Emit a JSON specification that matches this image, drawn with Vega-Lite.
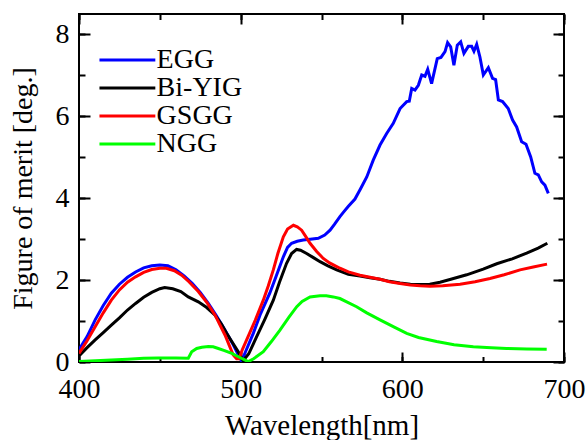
{
  "$schema": "https://vega.github.io/schema/vega-lite/v6.json",
  "width": 485,
  "height": 348,
  "autosize": {"type": "none"},
  "padding": {"left": 79, "top": 14, "right": 23, "bottom": 78},
  "background": "white",
  "config": {
    "view": {"stroke": "black", "strokeWidth": 2},
    "font": "Liberation Serif",
    "axis": {"grid": false, "domain": false, "labelFlush": false, "labelOverlap": false, "labelFont": "Liberation Serif", "titleFont": "Liberation Serif", "labelColor": "black", "titleColor": "black", "tickColor": "black", "tickWidth": 2, "titleFontWeight": "normal"}
  },
  "data": {"values": [
    {"m":"EGG","x":400,"y":0.30},{"m":"EGG","x":405,"y":0.62},{"m":"EGG","x":410,"y":1.03},{"m":"EGG","x":415,"y":1.38},{"m":"EGG","x":420,"y":1.68},{"m":"EGG","x":425,"y":1.90},{"m":"EGG","x":430,"y":2.07},{"m":"EGG","x":435,"y":2.20},{"m":"EGG","x":440,"y":2.30},{"m":"EGG","x":445,"y":2.35},{"m":"EGG","x":450,"y":2.37},{"m":"EGG","x":455,"y":2.35},{"m":"EGG","x":460,"y":2.25},{"m":"EGG","x":465,"y":2.10},{"m":"EGG","x":470,"y":1.92},{"m":"EGG","x":475,"y":1.70},{"m":"EGG","x":480,"y":1.43},{"m":"EGG","x":485,"y":1.13},{"m":"EGG","x":490,"y":0.80},{"m":"EGG","x":495,"y":0.45},{"m":"EGG","x":498,"y":0.22},{"m":"EGG","x":500.6,"y":0.02},{"m":"EGG","x":503,"y":0.25},{"m":"EGG","x":507.8,"y":0.70},{"m":"EGG","x":512,"y":1.15},{"m":"EGG","x":518,"y":1.68},{"m":"EGG","x":522,"y":2.10},{"m":"EGG","x":526.4,"y":2.57},{"m":"EGG","x":529,"y":2.80},{"m":"EGG","x":531.5,"y":2.90},{"m":"EGG","x":535,"y":2.95},{"m":"EGG","x":538.7,"y":2.98},{"m":"EGG","x":543,"y":3.00},{"m":"EGG","x":548,"y":3.02},{"m":"EGG","x":552,"y":3.10},{"m":"EGG","x":555.3,"y":3.22},{"m":"EGG","x":558,"y":3.36},{"m":"EGG","x":561.4,"y":3.55},{"m":"EGG","x":564,"y":3.68},{"m":"EGG","x":566.5,"y":3.80},{"m":"EGG","x":570.7,"y":3.98},{"m":"EGG","x":574,"y":4.22},{"m":"EGG","x":578,"y":4.52},{"m":"EGG","x":582,"y":4.93},{"m":"EGG","x":586.2,"y":5.30},{"m":"EGG","x":590.3,"y":5.58},{"m":"EGG","x":594.4,"y":5.83},{"m":"EGG","x":598.6,"y":6.19},{"m":"EGG","x":602.7,"y":6.36},{"m":"EGG","x":604.3,"y":6.37},{"m":"EGG","x":605.8,"y":6.68},{"m":"EGG","x":607.8,"y":6.64},{"m":"EGG","x":609.9,"y":6.76},{"m":"EGG","x":612,"y":7.01},{"m":"EGG","x":614,"y":6.98},{"m":"EGG","x":615.7,"y":7.15},{"m":"EGG","x":618.1,"y":6.80},{"m":"EGG","x":621.6,"y":7.41},{"m":"EGG","x":623.9,"y":7.44},{"m":"EGG","x":626.4,"y":7.58},{"m":"EGG","x":628,"y":7.80},{"m":"EGG","x":629.9,"y":7.70},{"m":"EGG","x":631.9,"y":7.25},{"m":"EGG","x":634,"y":7.74},{"m":"EGG","x":636.1,"y":7.82},{"m":"EGG","x":638.1,"y":7.54},{"m":"EGG","x":640.8,"y":7.71},{"m":"EGG","x":642.9,"y":7.71},{"m":"EGG","x":644.3,"y":7.59},{"m":"EGG","x":646,"y":7.76},{"m":"EGG","x":648,"y":7.45},{"m":"EGG","x":650.1,"y":7.01},{"m":"EGG","x":653.2,"y":7.19},{"m":"EGG","x":655.8,"y":6.93},{"m":"EGG","x":657.7,"y":6.90},{"m":"EGG","x":659.4,"y":6.40},{"m":"EGG","x":662,"y":6.36},{"m":"EGG","x":665.5,"y":6.19},{"m":"EGG","x":668.2,"y":5.91},{"m":"EGG","x":670.7,"y":5.74},{"m":"EGG","x":673.8,"y":5.38},{"m":"EGG","x":676.5,"y":5.32},{"m":"EGG","x":679.4,"y":5.01},{"m":"EGG","x":682,"y":4.61},{"m":"EGG","x":684.1,"y":4.57},{"m":"EGG","x":686.2,"y":4.40},{"m":"EGG","x":688.2,"y":4.32},{"m":"EGG","x":690.3,"y":4.12},
    {"m":"Bi-YIG","x":400,"y":0.15},{"m":"Bi-YIG","x":405,"y":0.35},{"m":"Bi-YIG","x":410,"y":0.54},{"m":"Bi-YIG","x":415,"y":0.72},{"m":"Bi-YIG","x":420,"y":0.90},{"m":"Bi-YIG","x":425,"y":1.08},{"m":"Bi-YIG","x":430,"y":1.27},{"m":"Bi-YIG","x":435,"y":1.43},{"m":"Bi-YIG","x":440,"y":1.58},{"m":"Bi-YIG","x":445,"y":1.70},{"m":"Bi-YIG","x":450,"y":1.79},{"m":"Bi-YIG","x":453,"y":1.82},{"m":"Bi-YIG","x":458,"y":1.79},{"m":"Bi-YIG","x":463,"y":1.72},{"m":"Bi-YIG","x":467.6,"y":1.59},{"m":"Bi-YIG","x":473.8,"y":1.47},{"m":"Bi-YIG","x":479,"y":1.33},{"m":"Bi-YIG","x":484,"y":1.15},{"m":"Bi-YIG","x":488,"y":0.93},{"m":"Bi-YIG","x":491.3,"y":0.70},{"m":"Bi-YIG","x":495,"y":0.47},{"m":"Bi-YIG","x":498.5,"y":0.25},{"m":"Bi-YIG","x":501.5,"y":0.03},{"m":"Bi-YIG","x":505,"y":0.20},{"m":"Bi-YIG","x":509.9,"y":0.62},{"m":"Bi-YIG","x":515,"y":1.05},{"m":"Bi-YIG","x":520.2,"y":1.51},{"m":"Bi-YIG","x":524,"y":1.95},{"m":"Bi-YIG","x":528.4,"y":2.41},{"m":"Bi-YIG","x":531.5,"y":2.65},{"m":"Bi-YIG","x":534.6,"y":2.75},{"m":"Bi-YIG","x":537,"y":2.73},{"m":"Bi-YIG","x":540.8,"y":2.65},{"m":"Bi-YIG","x":545,"y":2.55},{"m":"Bi-YIG","x":549.1,"y":2.45},{"m":"Bi-YIG","x":554,"y":2.35},{"m":"Bi-YIG","x":559.4,"y":2.25},{"m":"Bi-YIG","x":566.6,"y":2.14},{"m":"Bi-YIG","x":573.8,"y":2.10},{"m":"Bi-YIG","x":580,"y":2.06},{"m":"Bi-YIG","x":586.2,"y":2.02},{"m":"Bi-YIG","x":592,"y":1.97},{"m":"Bi-YIG","x":598.6,"y":1.93},{"m":"Bi-YIG","x":605,"y":1.90},{"m":"Bi-YIG","x":611,"y":1.89},{"m":"Bi-YIG","x":617,"y":1.90},{"m":"Bi-YIG","x":623.3,"y":1.95},{"m":"Bi-YIG","x":630,"y":2.02},{"m":"Bi-YIG","x":639.8,"y":2.13},{"m":"Bi-YIG","x":650,"y":2.27},{"m":"Bi-YIG","x":658.4,"y":2.40},{"m":"Bi-YIG","x":668,"y":2.52},{"m":"Bi-YIG","x":676.9,"y":2.66},{"m":"Bi-YIG","x":684,"y":2.78},{"m":"Bi-YIG","x":689.7,"y":2.90},
    {"m":"GSGG","x":400,"y":0.21},{"m":"GSGG","x":405,"y":0.52},{"m":"GSGG","x":410,"y":0.86},{"m":"GSGG","x":415,"y":1.20},{"m":"GSGG","x":420,"y":1.51},{"m":"GSGG","x":425,"y":1.76},{"m":"GSGG","x":430,"y":1.95},{"m":"GSGG","x":435,"y":2.08},{"m":"GSGG","x":440,"y":2.19},{"m":"GSGG","x":445,"y":2.26},{"m":"GSGG","x":450,"y":2.29},{"m":"GSGG","x":454,"y":2.29},{"m":"GSGG","x":459,"y":2.23},{"m":"GSGG","x":463.5,"y":2.12},{"m":"GSGG","x":468,"y":1.96},{"m":"GSGG","x":473.8,"y":1.72},{"m":"GSGG","x":479,"y":1.46},{"m":"GSGG","x":484.1,"y":1.15},{"m":"GSGG","x":487,"y":0.92},{"m":"GSGG","x":490.3,"y":0.66},{"m":"GSGG","x":493,"y":0.40},{"m":"GSGG","x":495.4,"y":0.17},{"m":"GSGG","x":497.5,"y":0.08},{"m":"GSGG","x":499,"y":0.08},{"m":"GSGG","x":501,"y":0.30},{"m":"GSGG","x":503.7,"y":0.54},{"m":"GSGG","x":509,"y":1.02},{"m":"GSGG","x":514,"y":1.51},{"m":"GSGG","x":517,"y":1.85},{"m":"GSGG","x":520.2,"y":2.25},{"m":"GSGG","x":523,"y":2.65},{"m":"GSGG","x":526.4,"y":3.06},{"m":"GSGG","x":529,"y":3.25},{"m":"GSGG","x":532.6,"y":3.34},{"m":"GSGG","x":535,"y":3.30},{"m":"GSGG","x":537.7,"y":3.22},{"m":"GSGG","x":540,"y":3.08},{"m":"GSGG","x":542.9,"y":2.90},{"m":"GSGG","x":547,"y":2.70},{"m":"GSGG","x":551.1,"y":2.53},{"m":"GSGG","x":555,"y":2.42},{"m":"GSGG","x":559.4,"y":2.33},{"m":"GSGG","x":561.4,"y":2.29},{"m":"GSGG","x":566.6,"y":2.20},{"m":"GSGG","x":573.8,"y":2.12},{"m":"GSGG","x":580,"y":2.07},{"m":"GSGG","x":586.2,"y":2.02},{"m":"GSGG","x":592,"y":1.96},{"m":"GSGG","x":598.6,"y":1.92},{"m":"GSGG","x":605,"y":1.88},{"m":"GSGG","x":611,"y":1.86},{"m":"GSGG","x":617.1,"y":1.85},{"m":"GSGG","x":625,"y":1.86},{"m":"GSGG","x":635.7,"y":1.90},{"m":"GSGG","x":645,"y":1.96},{"m":"GSGG","x":654.2,"y":2.04},{"m":"GSGG","x":663,"y":2.13},{"m":"GSGG","x":672.8,"y":2.25},{"m":"GSGG","x":681,"y":2.32},{"m":"GSGG","x":689.5,"y":2.39},
    {"m":"NGG","x":400,"y":0.01},{"m":"NGG","x":410,"y":0.03},{"m":"NGG","x":420,"y":0.05},{"m":"NGG","x":430,"y":0.07},{"m":"NGG","x":440,"y":0.09},{"m":"NGG","x":449,"y":0.10},{"m":"NGG","x":460,"y":0.10},{"m":"NGG","x":467.6,"y":0.09},{"m":"NGG","x":469.7,"y":0.25},{"m":"NGG","x":472.8,"y":0.33},{"m":"NGG","x":476,"y":0.36},{"m":"NGG","x":480,"y":0.38},{"m":"NGG","x":483,"y":0.37},{"m":"NGG","x":486.2,"y":0.33},{"m":"NGG","x":490,"y":0.28},{"m":"NGG","x":494.5,"y":0.21},{"m":"NGG","x":498,"y":0.14},{"m":"NGG","x":501,"y":0.08},{"m":"NGG","x":504.7,"y":0.01},{"m":"NGG","x":508,"y":0.08},{"m":"NGG","x":514,"y":0.25},{"m":"NGG","x":519,"y":0.50},{"m":"NGG","x":524.3,"y":0.78},{"m":"NGG","x":530,"y":1.10},{"m":"NGG","x":534.7,"y":1.35},{"m":"NGG","x":538,"y":1.48},{"m":"NGG","x":542.9,"y":1.59},{"m":"NGG","x":549.1,"y":1.62},{"m":"NGG","x":553,"y":1.62},{"m":"NGG","x":557.3,"y":1.59},{"m":"NGG","x":561.4,"y":1.55},{"m":"NGG","x":565.6,"y":1.47},{"m":"NGG","x":571.7,"y":1.35},{"m":"NGG","x":578,"y":1.20},{"m":"NGG","x":586.2,"y":1.03},{"m":"NGG","x":595,"y":0.85},{"m":"NGG","x":602.7,"y":0.70},{"m":"NGG","x":610,"y":0.60},{"m":"NGG","x":621.2,"y":0.50},{"m":"NGG","x":632,"y":0.42},{"m":"NGG","x":643.9,"y":0.37},{"m":"NGG","x":655,"y":0.35},{"m":"NGG","x":664.5,"y":0.33},{"m":"NGG","x":677,"y":0.32},{"m":"NGG","x":689.3,"y":0.31}
  ]},
  "layer": [
    {
      "mark": {"type": "line", "strokeWidth": 3, "clip": true},
      "encoding": {
        "x": {"field": "x", "type": "quantitative", "scale": {"domain": [400, 700], "nice": false, "zero": false},
          "axis": {"orient": "bottom", "values": [400, 500, 600, 700], "ticks": false, "labelFontSize": 28, "labelPadding": 13, "title": "Wavelength[nm]", "titleFontSize": 29, "titlePadding": 8}},
        "y": {"field": "y", "type": "quantitative", "scale": {"domain": [0, 8.5], "nice": false, "zero": false},
          "axis": {"orient": "left", "values": [0, 2, 4, 6, 8], "ticks": false, "labelFontSize": 28, "labelPadding": 10, "title": "Figure of merit [deg.]", "titleFontSize": 28, "titlePadding": 18}},
        "color": {"field": "m", "type": "nominal", "sort": ["EGG", "Bi-YIG", "GSGG", "NGG"],
          "scale": {"domain": ["EGG", "Bi-YIG", "GSGG", "NGG"], "range": ["#0000ff", "#000000", "#ff0000", "#00ff00"]},
          "legend": {"orient": "none", "legendX": 19, "legendY": 32, "title": null, "padding": 0, "symbolType": "M-2.2,0H7.6", "symbolSize": 130, "symbolStrokeWidth": 3, "labelOffset": 30.6, "labelFontSize": 28, "labelFont": "Liberation Serif", "labelColor": "black", "rowPadding": 0}}
      }
    },
    {
      "mark": {"type": "point", "opacity": 0},
      "encoding": {
        "x": {"field": "x", "type": "quantitative", "scale": {"domain": [400, 700], "nice": false, "zero": false},
          "axis": {"orient": "bottom", "values": [400, 450, 500, 550, 600, 650, 700], "labels": false, "title": null, "tickSize": -5.5}},
        "y": {"field": "y", "type": "quantitative", "scale": {"domain": [0, 8.5], "nice": false, "zero": false},
          "axis": {"orient": "left", "values": [0, 1, 2, 3, 4, 5, 6, 7, 8], "labels": false, "title": null, "tickSize": -6}}
      }
    },
    {
      "mark": {"type": "point", "opacity": 0},
      "encoding": {
        "x": {"field": "x", "type": "quantitative", "scale": {"domain": [400, 700], "nice": false, "zero": false},
          "axis": {"orient": "bottom", "values": [400, 500, 600, 700], "labels": false, "title": null, "tickSize": -10}},
        "y": {"field": "y", "type": "quantitative", "scale": {"domain": [0, 8.5], "nice": false, "zero": false},
          "axis": {"orient": "left", "values": [0, 2, 4, 6, 8], "labels": false, "title": null, "tickSize": -11}}
      }
    },
    {
      "mark": {"type": "point", "opacity": 0},
      "encoding": {
        "x": {"field": "x", "type": "quantitative", "scale": {"domain": [400, 700], "nice": false, "zero": false},
          "axis": {"orient": "top", "values": [400, 450, 500, 550, 600, 650, 700], "labels": false, "title": null, "tickSize": -5.5}},
        "y": {"field": "y", "type": "quantitative", "scale": {"domain": [0, 8.5], "nice": false, "zero": false},
          "axis": {"orient": "right", "values": [0, 1, 2, 3, 4, 5, 6, 7, 8], "labels": false, "title": null, "tickSize": -6}}
      }
    },
    {
      "mark": {"type": "point", "opacity": 0},
      "encoding": {
        "x": {"field": "x", "type": "quantitative", "scale": {"domain": [400, 700], "nice": false, "zero": false},
          "axis": {"orient": "top", "values": [400, 500, 600, 700], "labels": false, "title": null, "tickSize": -10}},
        "y": {"field": "y", "type": "quantitative", "scale": {"domain": [0, 8.5], "nice": false, "zero": false},
          "axis": {"orient": "right", "values": [0, 2, 4, 6, 8], "labels": false, "title": null, "tickSize": -11}}
      }
    }
  ],
  "resolve": {"axis": {"x": "independent", "y": "independent"}}
}
